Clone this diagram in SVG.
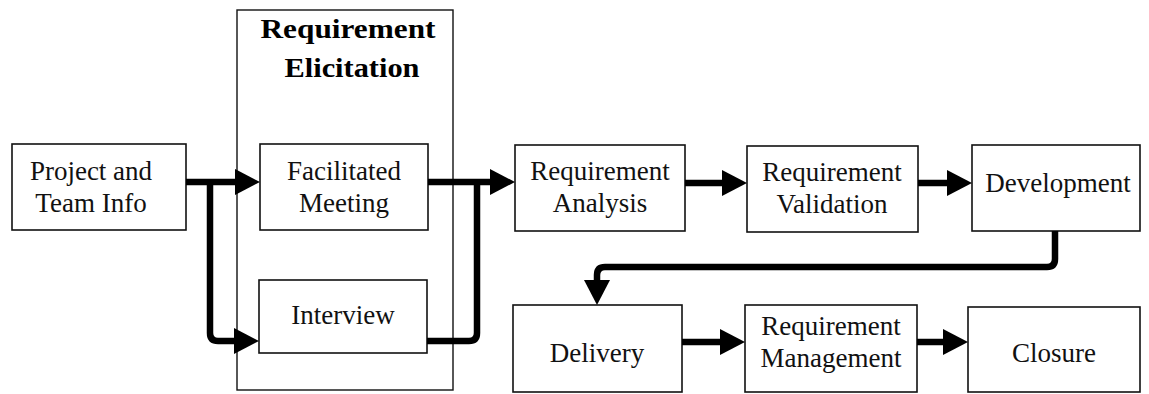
<svg xmlns="http://www.w3.org/2000/svg" width="1149" height="394" viewBox="0 0 1149 394">
<style>
.box{fill:#fff;stroke:#111;stroke-width:1.6}
.grp{fill:none;stroke:#111;stroke-width:1.4}
.t{font-family:"Liberation Serif","Times New Roman",serif;font-size:27px;fill:#111;text-anchor:middle}
.tb{font-family:"Liberation Serif","Times New Roman",serif;font-size:28px;font-weight:bold;fill:#000;text-anchor:middle}
.c{fill:none;stroke:#000;stroke-width:6.5;stroke-linejoin:round}
</style>
<defs>
<marker id="ah" markerUnits="userSpaceOnUse" markerWidth="26" markerHeight="26" refX="5" refY="13" orient="auto" viewBox="0 0 26 26">
<path d="M0,0 L25,13 L0,26 Z" fill="#000"/>
</marker>
</defs>
<g id="group-elicitation">
<rect class="grp" x="237" y="10" width="216" height="380"/>
<text class="tb" x="348" y="38" textLength="175" lengthAdjust="spacingAndGlyphs">Requirement</text>
<text class="tb" x="352" y="77" textLength="135" lengthAdjust="spacingAndGlyphs">Elicitation</text>
</g>
<g id="node-project">
<rect class="box" x="12" y="144" width="174" height="86"/>
<text class="t" x="91" y="180">Project and</text>
<text class="t" x="91" y="212">Team Info</text>
</g>
<g id="node-facilitated">
<rect class="box" x="260" y="144" width="168" height="86"/>
<text class="t" x="344" y="180">Facilitated</text>
<text class="t" x="344" y="212">Meeting</text>
</g>
<g id="node-interview">
<rect class="box" x="259" y="280" width="168" height="73"/>
<text class="t" x="343" y="324">Interview</text>
</g>
<g id="node-analysis">
<rect class="box" x="515" y="145" width="170" height="86"/>
<text class="t" x="600" y="180">Requirement</text>
<text class="t" x="600" y="212">Analysis</text>
</g>
<g id="node-validation">
<rect class="box" x="747" y="146" width="171" height="86"/>
<text class="t" x="832" y="181">Requirement</text>
<text class="t" x="832" y="213">Validation</text>
</g>
<g id="node-development">
<rect class="box" x="972" y="145" width="168" height="86"/>
<text class="t" x="1058" y="192">Development</text>
</g>
<g id="node-delivery">
<rect class="box" x="513" y="305" width="169" height="87"/>
<text class="t" x="597" y="362">Delivery</text>
</g>
<g id="node-management">
<rect class="box" x="745" y="305" width="172" height="87"/>
<text class="t" x="831" y="335">Requirement</text>
<text class="t" x="831" y="367">Management</text>
</g>
<g id="node-closure">
<rect class="box" x="968" y="307" width="172" height="85"/>
<text class="t" x="1054" y="362">Closure</text>
</g>
<g id="connectors">
<path class="c" d="M186,182 H240" marker-end="url(#ah)"/>
<path class="c" d="M210,182 V333 Q210,341 218,341 H239" marker-end="url(#ah)"/>
<path class="c" d="M428,182 H495" marker-end="url(#ah)"/>
<path class="c" d="M427,341 H469 Q477,341 477,333 V182"/>
<path class="c" d="M685,183 H727" marker-end="url(#ah)"/>
<path class="c" d="M918,183 H952" marker-end="url(#ah)"/>
<path class="c" d="M1055,231 V259 Q1055,267 1047,267 H605 Q597,267 597,275 V285" marker-end="url(#ah)"/>
<path class="c" d="M682,342 H725" marker-end="url(#ah)"/>
<path class="c" d="M917,342 H948" marker-end="url(#ah)"/>
</g>
</svg>
